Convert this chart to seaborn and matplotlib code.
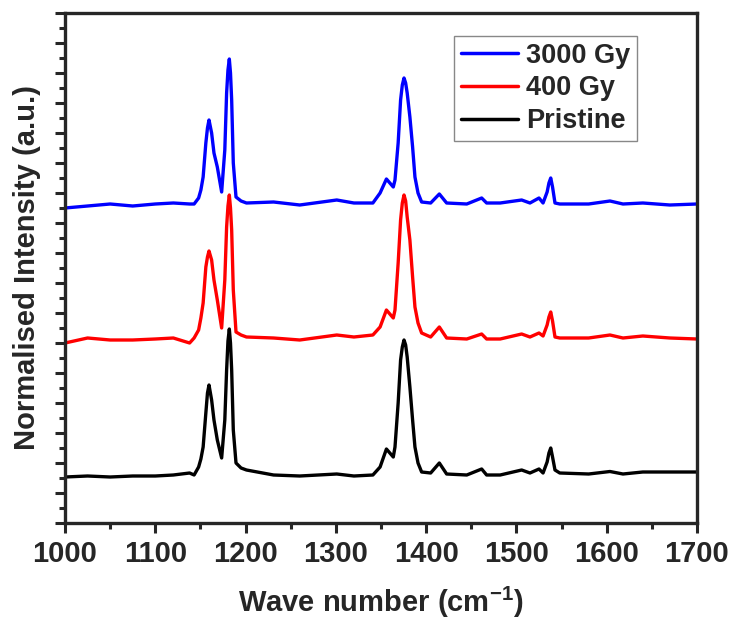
import pandas as pd
import matplotlib
matplotlib.use("Agg")
import matplotlib.pyplot as plt
import seaborn as sns
from matplotlib.ticker import MultipleLocator

# Raman spectra, stacked (a.u. offsets already included)
wavenumber = [1000, 1025, 1050, 1075, 1100, 1120, 1138, 1143, 1148, 1150.5,
              1153, 1156, 1157.8, 1159.5, 1162.4, 1165, 1168.7, 1173.5, 1177, 1179,
              1180.5, 1182, 1183.3, 1184.6, 1186.4, 1189.4, 1195, 1201, 1231, 1260,
              1301, 1320, 1341, 1349, 1356, 1363.6, 1365.5, 1369, 1371.7, 1373.6,
              1375.5, 1377.3, 1379, 1382, 1385, 1387.6, 1391, 1395, 1405, 1414.6,
              1422.7, 1445, 1461.5, 1467, 1482, 1505.8, 1515, 1525, 1529.5, 1534,
              1536, 1538, 1540, 1542.7, 1548, 1580, 1603.6, 1618, 1640, 1670,
              1700]

pristine = [0.46, 0.47, 0.46, 0.47, 0.47, 0.48, 0.50, 0.48, 0.56, 0.64,
            0.76, 1.10, 1.30, 1.38, 1.23, 1.03, 0.83, 0.65, 1.03, 1.53,
            1.82, 1.94, 1.80, 1.53, 0.93, 0.60, 0.55, 0.53, 0.48, 0.47,
            0.49, 0.47, 0.48, 0.56, 0.74, 0.66, 0.76, 1.20, 1.63, 1.76,
            1.83, 1.78, 1.66, 1.36, 1.03, 0.76, 0.60, 0.51, 0.50, 0.60,
            0.49, 0.48, 0.54, 0.48, 0.48, 0.53, 0.50, 0.54, 0.50, 0.61,
            0.70, 0.75, 0.66, 0.53, 0.50, 0.49, 0.515, 0.49, 0.51, 0.51,
            0.51]

gy400 = [1.80, 1.85, 1.83, 1.83, 1.84, 1.85, 1.80, 1.85, 1.93, 2.05,
         2.20, 2.56, 2.66, 2.72, 2.63, 2.43, 2.23, 1.95, 2.43, 2.96,
         3.17, 3.28, 3.15, 2.93, 2.33, 1.91, 1.88, 1.86, 1.85, 1.83,
         1.88, 1.86, 1.88, 1.96, 2.13, 2.05, 2.13, 2.60, 3.03, 3.20,
         3.28, 3.22, 3.06, 2.83, 2.46, 2.16, 2.00, 1.90, 1.86, 1.96,
         1.85, 1.84, 1.89, 1.84, 1.84, 1.89, 1.86, 1.90, 1.87, 1.98,
         2.06, 2.11, 2.02, 1.86, 1.85, 1.85, 1.88, 1.85, 1.87, 1.85,
         1.84]

gy3000 = [3.15, 3.17, 3.19, 3.17, 3.19, 3.20, 3.19, 3.19, 3.25, 3.33,
          3.46, 3.80, 3.95, 4.03, 3.90, 3.70, 3.56, 3.31, 3.73, 4.30,
          4.53, 4.64, 4.50, 4.23, 3.60, 3.26, 3.22, 3.20, 3.21, 3.18,
          3.23, 3.20, 3.20, 3.30, 3.44, 3.36, 3.43, 3.80, 4.23, 4.38,
          4.45, 4.40, 4.30, 4.06, 3.76, 3.46, 3.30, 3.21, 3.20, 3.29,
          3.20, 3.19, 3.25, 3.20, 3.20, 3.23, 3.20, 3.25, 3.20, 3.31,
          3.40, 3.45, 3.36, 3.20, 3.19, 3.19, 3.22, 3.19, 3.20, 3.18,
          3.19]

samples = ["3000 Gy", "400 Gy", "Pristine"]
colors = {"3000 Gy": "#0000ff", "400 Gy": "#ff0000", "Pristine": "#000000"}

df = pd.concat([
    pd.DataFrame({"wn": wavenumber, "I": gy3000, "sample": "3000 Gy"}),
    pd.DataFrame({"wn": wavenumber, "I": gy400, "sample": "400 Gy"}),
    pd.DataFrame({"wn": wavenumber, "I": pristine, "sample": "Pristine"}),
])

sns.set_style("ticks")
plt.rcParams["font.family"] = ["Liberation Sans", "DejaVu Sans"]
plt.rcParams["font.weight"] = "bold"
plt.rcParams["mathtext.fontset"] = "custom"
plt.rcParams["mathtext.rm"] = "Liberation Sans:bold"
plt.rcParams["mathtext.bf"] = "Liberation Sans:bold"

fig = plt.figure(figsize=(7.35, 6.25), dpi=100)
ax = fig.add_axes([65 / 735, 1 - 523 / 625, 632 / 735, 510 / 625])

sns.lineplot(data=df, x="wn", y="I", hue="sample", hue_order=samples,
             palette=colors, estimator=None, linewidth=2.4, ax=ax)
for ln in ax.get_lines():
    ln.set_solid_joinstyle("round")

ax.set_xlim(1000, 1700)
ax.set_ylim(0, 5.10)
ax.xaxis.set_major_locator(MultipleLocator(100))
ax.xaxis.set_minor_locator(MultipleLocator(50))
ax.yaxis.set_major_locator(MultipleLocator(0.3))
ax.yaxis.set_minor_locator(MultipleLocator(0.15))
ax.tick_params(axis="both", which="major", direction="out", length=7, width=2.2,
               labelsize=21, pad=5)
ax.tick_params(axis="both", which="minor", direction="out", length=4, width=2.2)
ax.tick_params(axis="y", labelleft=False)
for lbl in ax.get_xticklabels():
    lbl.set_fontweight("bold")
for sp in ax.spines.values():
    sp.set_linewidth(2.4)

ax.set_xlabel(r"Wave number (cm$^{-1}$)", fontsize=21, fontweight="bold", labelpad=12)
ax.set_ylabel("Normalised Intensity (a.u.)", fontsize=21, fontweight="bold", labelpad=10)

leg = ax.legend(loc="upper right", bbox_to_anchor=(0.905, 0.955), borderaxespad=0,
                fontsize=19.5, handlelength=2.1, handletextpad=0.3, labelspacing=0.25,
                borderpad=0.25, fancybox=False, framealpha=1, edgecolor="#888888")
leg.get_frame().set_linewidth(1.0)
for t in leg.get_texts():
    t.set_fontweight("bold")
for h in leg.get_lines():
    h.set_linewidth(2.5)

fig.savefig("out.png", dpi=100)
